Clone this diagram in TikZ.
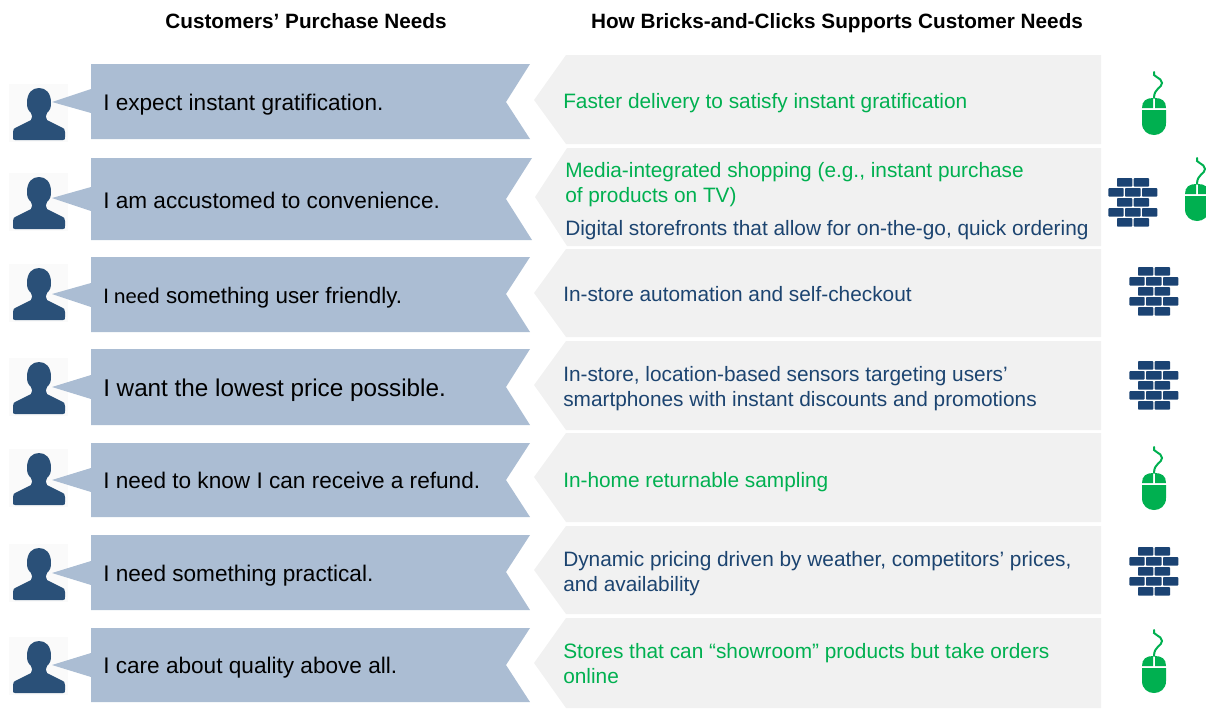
\documentclass[tikz,border=0pt]{standalone}
\usepackage{fontspec}
\setmainfont{Liberation Sans}
\newfontfamily\carlitofont{Carlito}
\definecolor{bannerblue}{HTML}{ABBDD3}
\definecolor{arrowgray}{HTML}{F1F1F1}
\definecolor{personblue}{HTML}{2A5078}
\definecolor{brickblue}{HTML}{1B4373}
\definecolor{webgreen}{HTML}{00B050}
\definecolor{storeblue}{HTML}{1C4470}
\tikzset{
  heading/.style={anchor=base, inner sep=0pt, font=\fontsize{15.55}{18}\selectfont\bfseries},
  needtext/.style={anchor=base west, inner sep=0pt, text=black, font=\fontsize{16.95}{20}\selectfont},
  webtext/.style={anchor=base west, inner sep=0pt, text=webgreen, font=\fontsize{15.62}{18.75}\selectfont},
  storetext/.style={anchor=base west, inner sep=0pt, text=storeblue, font=\fontsize{15.62}{18.75}\selectfont},
  person/.pic={
    \fill[black!2] (-30,-28) rectangle (29,30);
    \fill[personblue] (-24,28) .. controls (-26,28) and (-26,27) .. (-26,25) -- (-26,20) .. controls (-26,17) and (-25,16) .. (-22,15) -- (-8,8) .. controls (-6,6) and (-7,3) .. (-8,1) .. controls (-11,-2) and (-12,-4) .. (-12,-9) .. controls (-12,-19) and (-7,-24) .. (0,-24) .. controls (7,-24) and (12,-19) .. (12,-9) .. controls (12,-4) and (11,-2) .. (8,1) .. controls (7,3) and (6,6) .. (8,8) -- (22,15) .. controls (25,16) and (26,17) .. (26,20) -- (26,25) .. controls (26,27) and (26,28) .. (24,28) -- cycle;
  },
  mouse/.pic={
    \draw[webgreen, line width=1.5pt, line cap=round] (0,-26) .. controls (-3,-21) and (8,-21) .. (8,-15) .. controls (8,-10) and (0,-10) .. (0,0);
    \fill[webgreen] (-12,10) .. controls (-12,3) and (-8,0) .. (-1,0) -- (-1,10) -- cycle;
    \fill[webgreen] (12,10) .. controls (12,3) and (8,0) .. (1,0) -- (1,10) -- cycle;
    \fill[webgreen] (-12,12) -- (12,12) -- (12,25) .. controls (12,33) and (6,37) .. (0,37) .. controls (-6,37) and (-12,33) .. (-12,25) -- cycle;
  },
  bricks/.pic={
    \fill[brickblue, rounded corners=0.7pt] (-16,-24) rectangle (-0.7,-15.3) (0.7,-24) rectangle (16,-15.3)
      (-24.7,-14) rectangle (-9.3,-5.3) (-8,-14) rectangle (7.7,-5.3) (9,-14) rectangle (24.3,-5.3)
      (-16,-4) rectangle (-0.7,4.7) (0.7,-4) rectangle (16,4.7)
      (-24.7,6) rectangle (-9.3,14.7) (-8,6) rectangle (7.7,14.7) (9,6) rectangle (24.3,14.7)
      (-16,16) rectangle (-0.7,24.7) (0.7,16) rectangle (16,24.7);
  }
}

\begin{document}
\begin{tikzpicture}[x=0.75pt, y=-0.75pt]
\clip (0,0) rectangle (1206,722);

\node[heading] (headneeds) at (306,28) {Customers’ Purchase Needs};
\node[heading] (headsupport) at (837,28) {How Bricks-and-Clicks Supports Customer Needs};

% people
\pic (person1) at (39,112) {person};
\pic (person2) at (39,201) {person};
\pic (person3) at (39,292) {person};
\pic (person4) at (39,386) {person};
\pic (person5) at (39,477) {person};
\pic (person6) at (39,572) {person};
\pic (person7) at (39,665) {person};

% left banners
\fill[bannerblue] (91,64) -- (530,64) -- (506,102) -- (530,139) -- (91,139) -- (91,113) -- (52,102) -- (91,89) -- cycle;
\fill[bannerblue] (91,158) -- (532,158) -- (506,199) -- (532,240) -- (91,240) -- (91,211) -- (52,198) -- (91,187) -- cycle;
\fill[bannerblue] (91,257) -- (530,257) -- (506,294) -- (530,332) -- (91,332) -- (91,307) -- (52,294) -- (91,283) -- cycle;
\fill[bannerblue] (91,349) -- (530,349) -- (506,387) -- (530,425) -- (91,425) -- (91,399) -- (52,387) -- (91,375) -- cycle;
\fill[bannerblue] (91,443) -- (530,443) -- (506,480) -- (530,517) -- (91,517) -- (91,492) -- (52,480) -- (91,468) -- cycle;
\fill[bannerblue] (91,535) -- (530,535) -- (506,572) -- (530,610) -- (91,610) -- (91,585) -- (52,573) -- (91,561) -- cycle;
\fill[bannerblue] (91,628) -- (530,628) -- (506,665) -- (530,702) -- (91,702) -- (91,677) -- (52,665) -- (91,653) -- cycle;

% right arrows
\fill[arrowgray] (566,55) -- (1101,55) -- (1101,144) -- (566,144) -- (534,100) -- cycle;
\fill[arrowgray] (567,148) -- (1101,148) -- (1101,246) -- (567,246) -- (535,197) -- cycle;
\fill[arrowgray] (566,249) -- (1101,249) -- (1101,337) -- (566,337) -- (534,293) -- cycle;
\fill[arrowgray] (566,341) -- (1101,341) -- (1101,430) -- (566,430) -- (534,385) -- cycle;
\fill[arrowgray] (566,433) -- (1101,433) -- (1101,522) -- (566,522) -- (534,477) -- cycle;
\fill[arrowgray] (566,526) -- (1101,526) -- (1101,614) -- (566,614) -- (534,570) -- cycle;
\fill[arrowgray] (566,618) -- (1101,618) -- (1101,708) -- (566,708) -- (534,663) -- cycle;

% left texts
\node[needtext] (need1) at (103,110) {I expect instant gratification.};
\node[needtext] (need2) at (103,208) {I am accustomed to convenience.};
\node[needtext, font=\fontsize{16.8}{20}\selectfont] (need3) at (103,303) {{\carlitofont I need} something user friendly.};
\node[needtext, font=\fontsize{18.2}{22}\selectfont] (need4) at (103,396) {I want the lowest price possible.};
\node[needtext] (need5) at (103,488) {I need to know I can receive a refund.};
\node[needtext] (need6) at (103,581) {I need something practical.};
\node[needtext] (need7) at (103,673) {I care about quality above all.};

% right texts
\node[webtext] (support1) at (563,108) {Faster delivery to satisfy instant gratification};
\node[webtext] (support2a) at (565,177) {Media-integrated shopping (e.g., instant purchase};
\node[webtext] (support2b) at (565,202) {of products on TV)};
\node[storetext] (support2c) at (565,235) {Digital storefronts that allow for on-the-go, quick ordering};
\node[storetext] (support3) at (563,301) {In-store automation and self-checkout};
\node[storetext] (support4a) at (563,381) {In-store, location-based sensors targeting users’};
\node[storetext] (support4b) at (563,406) {smartphones with instant discounts and promotions};
\node[webtext] (support5) at (563,487) {In-home returnable sampling};
\node[storetext] (support6a) at (563,566) {Dynamic pricing driven by weather, competitors’ prices,};
\node[storetext] (support6b) at (563,591) {and availability};
\node[webtext] (support7a) at (563,658) {Stores that can “showroom” products but take orders};
\node[webtext] (support7b) at (563,683) {online};

% channel icons
\pic (mouse1) at (1154,98) {mouse};
\pic (bricks2) at (1133,202) {bricks};
\pic (mouse2) at (1197,184) {mouse};
\pic (bricks3) at (1154,291) {bricks};
\pic (bricks4) at (1154,385) {bricks};
\pic (mouse5) at (1154,473) {mouse};
\pic (bricks6) at (1154,571) {bricks};
\pic (mouse7) at (1154,656) {mouse};
\end{tikzpicture}
\end{document}
